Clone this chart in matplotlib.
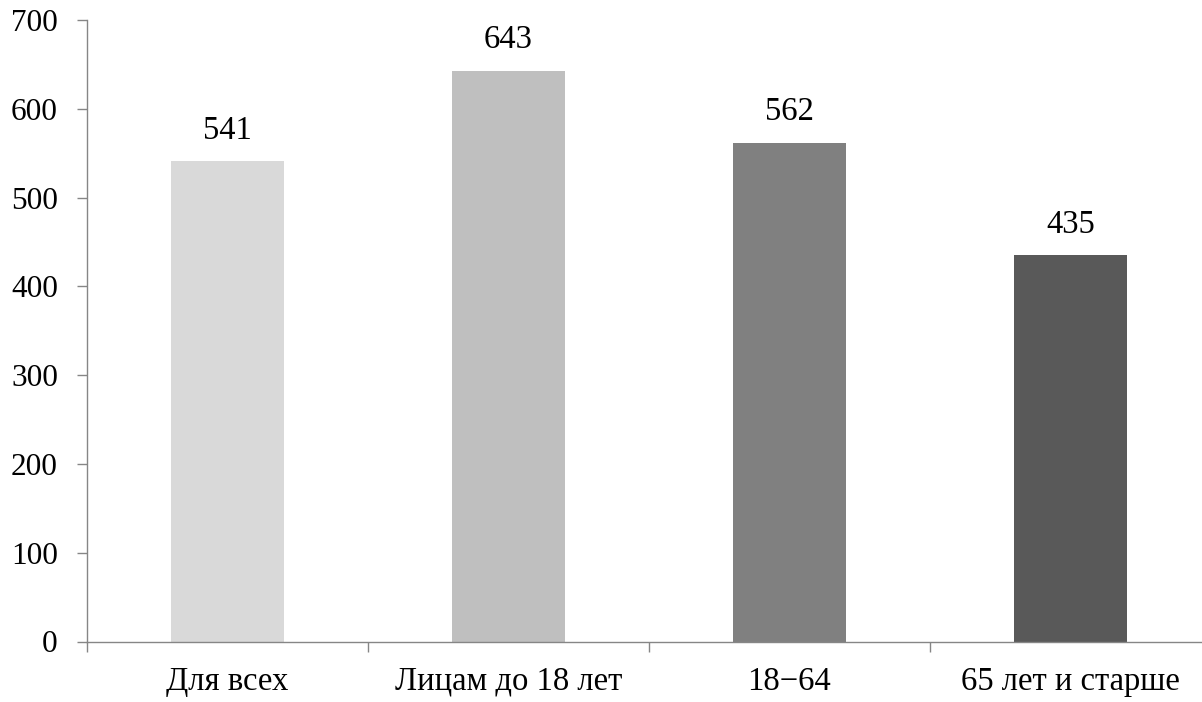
import matplotlib
matplotlib.use("Agg")
import matplotlib.pyplot as plt
import numpy as np

categories = ["Для всех", "Лицам до 18 лет", "18\u221264", "65 лет и старше"]
values = [541, 643, 562, 435]
colors = ["#D9D9D9", "#BFBFBF", "#808080", "#595959"]
yticks = [0, 100, 200, 300, 400, 500, 600, 700]

plt.rcParams['font.family'] = ['Liberation Serif', 'DejaVu Serif']
fs = 23.5

fig = plt.figure(figsize=(12.02, 7.02), dpi=100)
# axis runs slightly past the right edge like the original
ax = fig.add_axes([87 / 1202, 1 - 641.5 / 702, (1211 - 87) / 1202, (641.5 - 20) / 702])

x = np.arange(len(categories))
bars = ax.bar(x, values, width=0.4, color=colors, zorder=2)

for xi, v in zip(x, values):
    ax.annotate(str(v), (xi, v), xytext=(0, 11), textcoords="offset points",
                ha="center", va="bottom", fontsize=fs)

ax.set_xlim(-0.5, len(categories) - 0.5)
ax.set_ylim(0, 700)
ax.set_yticks(yticks)
ax.set_yticklabels([str(t) for t in yticks])

# category labels centred, ticks between categories
ax.set_xticks(np.arange(-0.5, len(categories) + 0.5, 1.0))
ax.set_xticklabels([])
ax.set_xticks(x, minor=True)
ax.set_xticklabels(categories, minor=True)
ax.tick_params(axis="x", which="minor", length=0, labelsize=fs, pad=18)
ax.tick_params(axis="x", which="major", length=7, width=1, color="#868686", direction="out")
ax.tick_params(axis="y", length=7, width=1, color="#868686", labelsize=22.5, pad=14)

for side in ["top", "right"]:
    ax.spines[side].set_visible(False)
for side in ["left", "bottom"]:
    ax.spines[side].set_color("#868686")
    ax.spines[side].set_linewidth(1)

fig.savefig("out.png", dpi=100)
